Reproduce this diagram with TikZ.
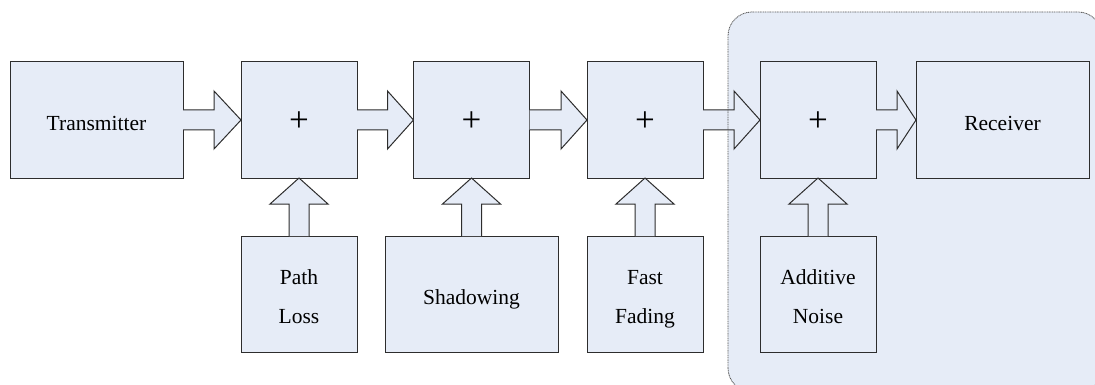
\documentclass[tikz,border=0pt]{standalone}
\usepackage{fontspec}
\setmainfont{Liberation Serif}
\usetikzlibrary{calc}
\definecolor{boxfill}{RGB}{230,236,247}
\definecolor{edge}{RGB}{45,45,45}
\definecolor{frame}{RGB}{85,85,85}
\tikzset{
  block/.style={draw=edge, fill=boxfill, line width=1pt, inner sep=0pt, outer sep=0pt,
    minimum height=116pt, font=\fontsize{21.5}{39}\selectfont, align=center},
  narrow/.style={block, minimum width=116pt},
  wide/.style={block, minimum width=173pt},
  oneline/.style={text height=21.5pt, text depth=0pt},
  twoline/.style={narrow, text height=58pt, text depth=0pt},
  sum/.style={narrow, font=\fontsize{35}{38}\selectfont, text height=23.7pt, text depth=0pt},
  blockarrow/.style={draw=edge, fill=boxfill, line width=1pt, line join=miter},
  zonefill/.style={fill=boxfill, rounded corners=24pt, inner sep=0pt, outer sep=0pt},
  zoneedge/.style={draw=frame, line width=0.8pt, dash pattern=on 1pt off 0.7pt, rounded corners=24pt},
}
% horizontal block arrow: from node #1 (east side) to node #2 (west side), head length #3
\newcommand{\harrow}[3]{%
  \draw[blockarrow] ($(#1.east)+(0,-10)$) -- ($(#2.west)+(-#3,-10)$) -- ($(#2.west)+(-#3,-29)$)
    -- (#2.west) -- ($(#2.west)+(-#3,29)$) -- ($(#2.west)+(-#3,10)$) -- ($(#1.east)+(0,10)$);}
% vertical block arrow: from node #1 (top side) up to node #2 (bottom side)
\newcommand{\varrow}[2]{%
  \draw[blockarrow] ($(#1.north)+(-10,0)$) -- ($(#2.south)+(-10,26)$) -- ($(#2.south)+(-29,26)$)
    -- (#2.south) -- ($(#2.south)+(29,26)$) -- ($(#2.south)+(10,26)$) -- ($(#1.north)+(10,0)$);}
\begin{document}
\begin{tikzpicture}[x=1pt, y=-1pt]
  \useasboundingbox (0,0) rectangle (1095,385);
  \begin{scope}
    \clip (0,0) rectangle (1095,385);
    % receiver-side region
    \node[zonefill, minimum width=374pt, minimum height=380pt] (zone) at (915,202) {};
  \end{scope}

  % top chain
  \node[wide, oneline]   (tx) at (96.5,120) {Transmitter};
  \node[sum]             (s1) at (299,120)   {+};
  \node[sum]             (s2) at (471.5,120) {+};
  \node[sum]             (s3) at (645,120)   {+};
  \node[sum]             (s4) at (818,120)   {+};
  \node[wide, oneline]   (rx) at (1002.5,120) {Receiver};

  % impairment sources
  \node[twoline]         (pl) at (299,294)   {Path\\Loss};
  \node[wide, oneline]   (sh) at (471.5,294) {Shadowing};
  \node[twoline]         (ff) at (645,294)   {Fast\\Fading};
  \node[twoline]         (an) at (818,294)   {Additive\\Noise};

  % signal flow
  \harrow{tx}{s1}{27}
  \harrow{s1}{s2}{26}
  \harrow{s2}{s3}{26}
  \harrow{s3}{s4}{26}
  \harrow{s4}{rx}{19}

  % impairments entering the adders
  \varrow{pl}{s1}
  \varrow{sh}{s2}
  \varrow{ff}{s3}
  \varrow{an}{s4}

  % region outline on top
  \begin{scope}
    \clip (0,0) rectangle (1095,385);
    \draw[zoneedge] (zone.south west) rectangle (zone.north east);
  \end{scope}
\end{tikzpicture}
\end{document}
